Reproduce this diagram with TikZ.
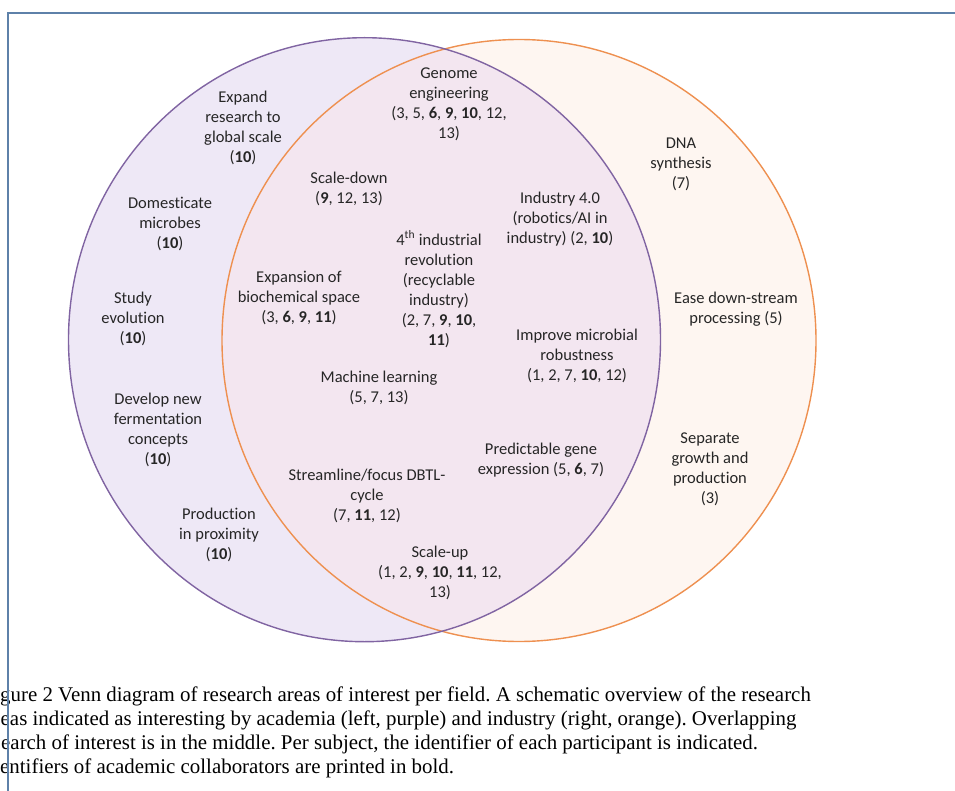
\documentclass[tikz,border=0pt]{standalone}
\usepackage{fontspec}
\setmainfont{Carlito}[Ligatures=NoCommon]
\newfontfamily\capfont{Liberation Serif}
\definecolor{purpfill}{HTML}{EEE8F6}
\definecolor{orfill}{HTML}{FEF6F1}
\definecolor{midfill}{HTML}{F3E6F0}
\definecolor{purpline}{HTML}{8064A2}
\definecolor{orline}{HTML}{EE9050}
\definecolor{frameline}{HTML}{5E81A9}
\definecolor{txt}{HTML}{262626}
\begin{document}
\frenchspacing
\begin{tikzpicture}[x=1pt,y=-1pt,
  venntext/.style={align=center, font=\fontsize{16.5}{20}\selectfont, text=txt, inner sep=0pt},
  captext/.style={anchor=base west, font=\capfont\fontsize{20.9}{24}\selectfont, text=black, inner sep=0pt},
  frame/.style={draw=frameline, line width=1.8pt}]
\useasboundingbox (0,0) rectangle (955,791);
% circles
\coordinate (pc) at (364.5,339.7);
\coordinate (oc) at (519,340.5);
\fill[purpfill] (pc) ellipse [x radius=296pt, y radius=302pt];
\fill[orfill] (oc) ellipse [x radius=297pt, y radius=301pt];
\begin{scope}
  \clip (pc) ellipse [x radius=296pt, y radius=302pt];
  \fill[midfill] (oc) ellipse [x radius=297pt, y radius=301pt];
\end{scope}
\draw[orline, line width=1.4pt] (oc) ellipse [x radius=297pt, y radius=301pt];
\draw[purpline, line width=1.4pt] (pc) ellipse [x radius=296pt, y radius=302pt];
% academia only
\node[venntext] (expand) at (243,128) {Expand\\research to\\global scale\\(\textbf{10})};
\node[venntext] (domest) at (170,224) {Domesticate\\microbes\\(\textbf{10})};
\node[venntext] (study) at (133,319) {Study\\evolution\\(\textbf{10})};
\node[venntext] (ferm) at (158,430) {Develop new\\fermentation\\concepts\\(\textbf{10})};
\node[venntext] (prox) at (219,535) {Production\\in proximity\\(\textbf{10})};
% overlap
\node[venntext] (genome) at (449,104) {Genome\\engineering\\(3, 5, \textbf{6}, \textbf{9}, \textbf{10}, 12,\\13)};
\node[venntext] (sdown) at (349,189) {Scale-down\\(\textbf{9}, 12, 13)};
\node[venntext] (ind4) at (560,219) {Industry 4.0\\(robotics/AI in\\industry) (2, \textbf{10})};
\node[venntext] (fourth) at (439,289) {4\textsuperscript{th} industrial\\revolution\\(recyclable\\industry)\\(2, 7, \textbf{9}, \textbf{10},\\\textbf{11})};
\node[venntext] (biochem) at (299,298) {Expansion of\\biochemical space\\(3, \textbf{6}, \textbf{9}, \textbf{11})};
\node[venntext] (ml) at (379,388) {Machine learning\\(5, 7, 13)};
\node[venntext] (robust) at (577,356) {Improve microbial\\robustness\\(1, 2, 7, \textbf{10}, 12)};
\node[venntext] (gene) at (541,460) {Predictable gene\\expression (5, \textbf{6}, 7)};
\node[venntext] (dbtl) at (367,496) {Streamline/focus DBTL-\\cycle\\(7, \textbf{11}, 12)};
\node[venntext] (sup) at (440,573) {Scale-up\\(1, 2, \textbf{9}, \textbf{10}, \textbf{11}, 12,\\13)};
% industry only
\node[venntext] (dna) at (681,164) {DNA\\synthesis\\(7)};
\node[venntext] (ease) at (736,309) {Ease down-stream\\processing (5)};
\node[venntext] (sep) at (710,469) {Separate\\growth and\\production\\(3)};
% caption
\node[captext] (cap1) at (0,701.5) {gure 2 Venn diagram of research areas of interest per field. A schematic overview of the research};
\node[captext] (cap2) at (0.5,725.5) {eas indicated as interesting by academia (left, purple) and industry (right, orange). Overlapping};
\node[captext] (cap3) at (1,749.5) {earch of interest is in the middle. Per subject, the identifier of each participant is indicated.};
\node[captext] (cap4) at (0,773.5) {entifiers of academic collaborators are printed in bold.};
% frame
\coordinate (ftr) at (955,13);
\coordinate (ftl) at (8,13);
\coordinate (fbl) at (8,791);
\draw[frame] (ftr) -- (ftl) -- (fbl);
\end{tikzpicture}
\end{document}
